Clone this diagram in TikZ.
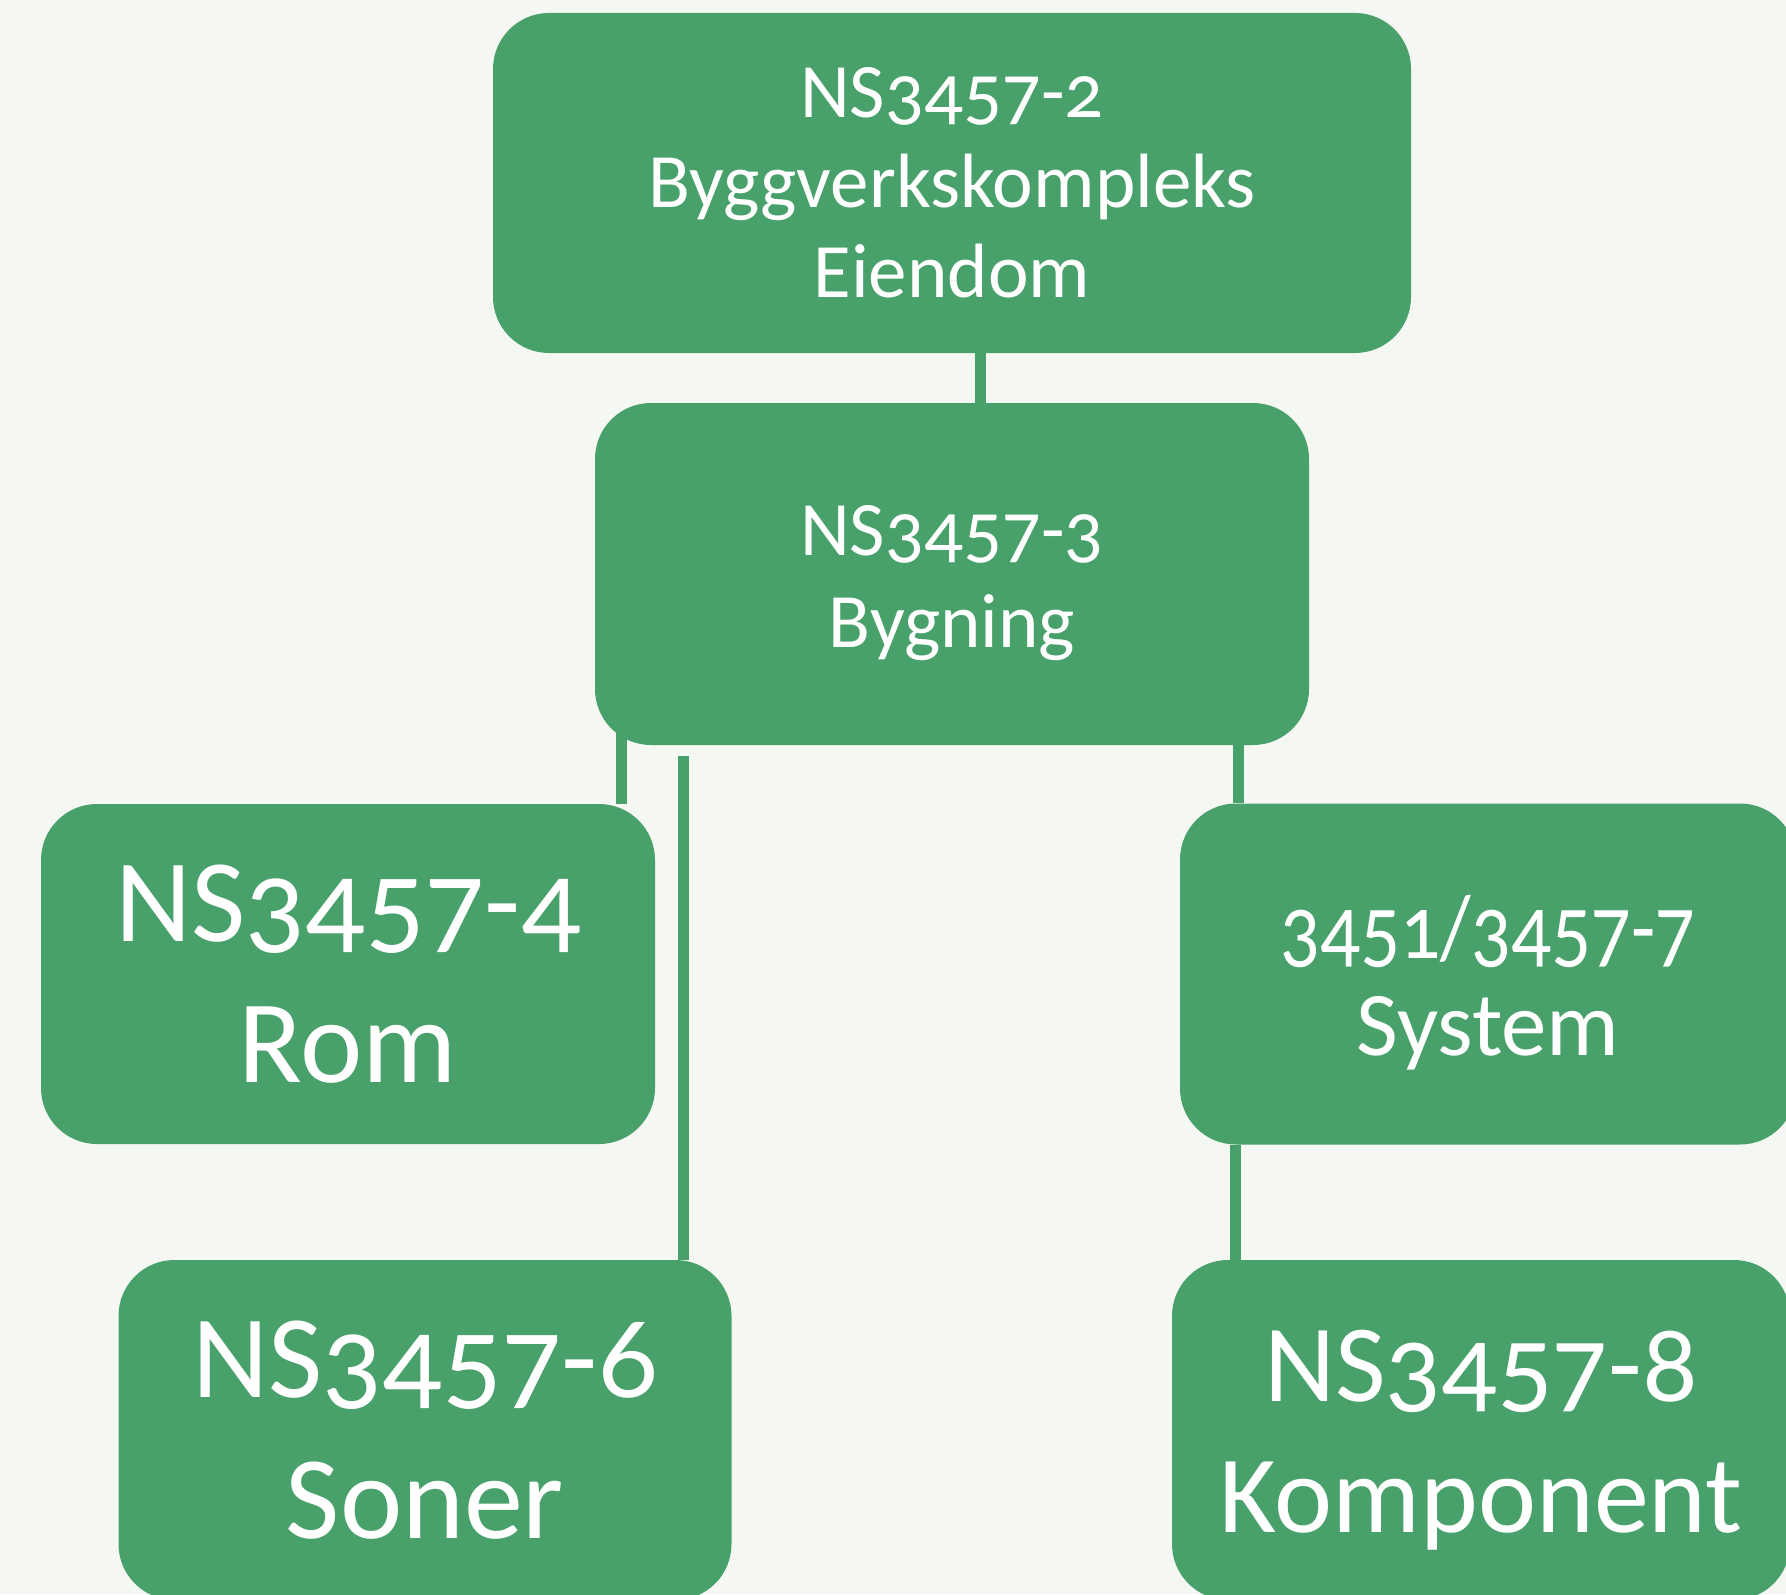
\documentclass[tikz,border=0pt]{standalone}
\usepackage{fontspec}
\setmainfont{Carlito}[Numbers=OldStyle]
\usetikzlibrary{positioning}
\definecolor{nsgreen}{RGB}{72,160,106}
\definecolor{paper}{RGB}{245,247,243}
\pgfdeclarelayer{background}
\pgfsetlayers{background,main}
% lower one text line without changing the box
\newcommand\dropline[2]{\raisebox{-#1}[\height][\depth]{#2}}

\begin{document}
\begin{tikzpicture}[x=0.5pt,y=-0.5pt,
    level/.style={fill=nsgreen,text=white,rounded corners=28pt,align=center,inner sep=0pt},
    link/.style={draw=nsgreen,line width=5.5pt}]
    \useasboundingbox (0,0) rectangle (1786,1594);

    % Levels of the standard
    \node[level,minimum width=459pt,minimum height=170pt,font=\fontsize{38.5pt}{45pt}\selectfont]
        (kompleks) at (952,183) {NS3457-2\\Byggverkskompleks\\Eiendom};
    \node[level,minimum width=357pt,minimum height=171pt,font=\fontsize{38.5pt}{46pt}\selectfont]
        (bygning) at (952,574) {\dropline{4.5pt}{NS3457-3}\\\dropline{4.5pt}{Bygning}};
    \node[level,minimum width=307pt,minimum height=170pt,font=\fontsize{59pt}{70.5pt}\selectfont]
        (rom) at (348,974) {NS3457-4\\Rom};
    \node[level,minimum width=308pt,minimum height=170.5pt,font=\fontsize{45.5pt}{48.5pt}\selectfont]
        (system) at (1488,974) {\dropline{4.5pt}{\scalebox{0.87}[1]{3451/3457-7}}\\\dropline{4.5pt}{System}};
    \node[level,minimum width=306.5pt,minimum height=170pt,font=\fontsize{59pt}{70.5pt}\selectfont]
        (soner) at (425,1430) {NS3457-6\\Soner};
    \node[level,minimum width=309pt,minimum height=170pt,font=\fontsize{55pt}{65.5pt}\selectfont]
        (komponent) at (1481,1430) {\dropline{5pt}{NS3457-8}\\\dropline{5pt}{Komponent}};

    % Connectors behind the boxes
    \begin{pgfonlayer}{background}
        \fill[paper] (0,0) rectangle (1786,1594);
        \draw[link] ([xshift=14pt]kompleks.south) -- ([xshift=14pt]bygning.north);
        \draw[link] ([xshift=13.5pt,yshift=10pt]bygning.south west) -- ([xshift=13.5pt]bygning.south west |- rom.north);
        \draw[link] ([xshift=44.5pt,yshift=-5.5pt]bygning.south west) -- ([xshift=44.5pt]bygning.south west |- soner.north);
        \draw[link] ([xshift=-35.5pt]bygning.south east) -- ([xshift=-35.5pt]bygning.south east |- system.north);
        \draw[link] ([xshift=28pt]system.south west) -- ([xshift=28pt]system.south west |- komponent.north);
    \end{pgfonlayer}
\end{tikzpicture}
\end{document}
